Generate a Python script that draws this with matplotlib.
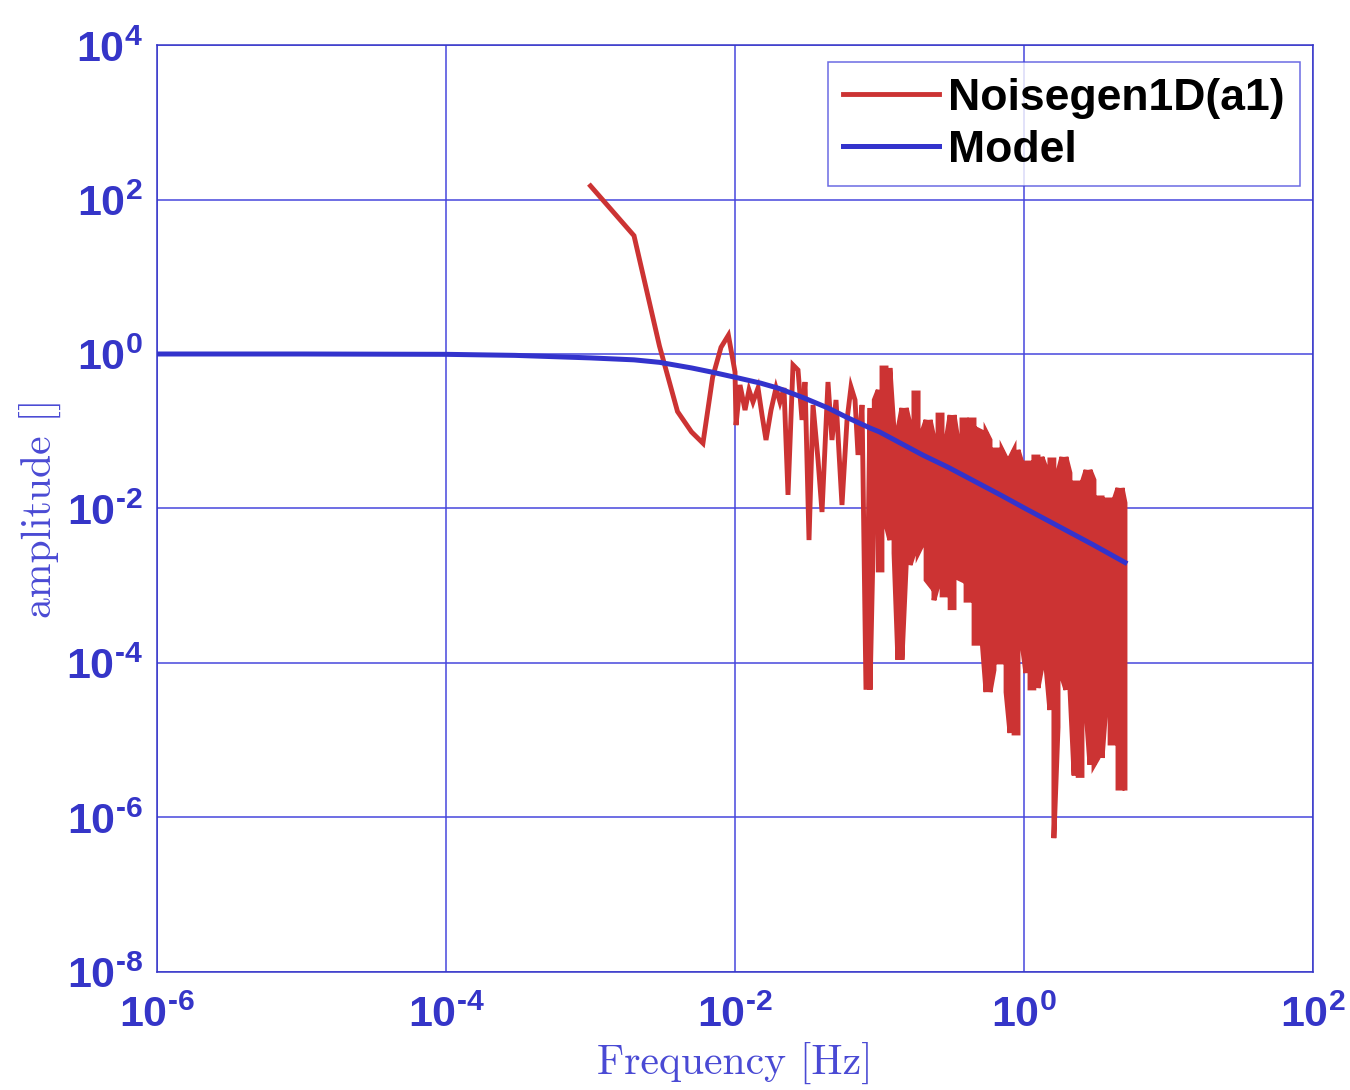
import matplotlib
matplotlib.use("Agg")
import matplotlib.pyplot as plt

# ---- data --------------------------------------------------------------
# smooth low-frequency part of the noise spectrum
smooth_f = [1.0e-3, 2.0e-3, 3.0e-3, 4.0e-3, 5.0e-3, 6.0e-3, 7.0e-3, 8.0e-3, 9.0e-3, 1.0e-2]
smooth_amp = [150, 34, 1.27, 0.18, 0.098, 0.070, 0.50, 1.22, 1.75, 0.585]

# resolved oscillations between 1e-2 and ~0.08 Hz
osc_f = [0.01016, 0.01083, 0.01173, 0.0125, 0.01332, 0.01443, 0.01538, 0.01639,
         0.01775, 0.01922, 0.02048, 0.02183, 0.02327, 0.0252, 0.02729, 0.02909,
         0.03051, 0.03252, 0.03466, 0.03754, 0.0400, 0.0440, 0.0469, 0.0500,
         0.0550, 0.0596, 0.0635, 0.0677, 0.0710, 0.0757, 0.0806]
osc_amp = [0.120, 0.397, 0.188, 0.342, 0.239, 0.363, 0.162, 0.077,
           0.188, 0.363, 0.239, 0.363, 0.0150, 0.721, 0.62, 0.140,
           0.434, 0.0039, 0.219, 0.0425, 0.0090, 0.434, 0.077, 0.254,
           0.0111, 0.140, 0.374, 0.254, 0.0493, 0.219, 4.5e-5]

# dense part: local max / min of the spectrum per narrow frequency band
dense_f = [0.086, 0.092, 0.098, 0.104, 0.111, 0.118, 0.126, 0.134, 0.143, 0.153,
           0.163, 0.173, 0.185, 0.197, 0.210, 0.224, 0.238, 0.254, 0.271, 0.289,
           0.308, 0.328, 0.349, 0.372, 0.397, 0.423, 0.451, 0.480, 0.512, 0.546,
           0.582, 0.620, 0.661, 0.705, 0.751, 0.800, 0.853, 0.909, 0.969, 1.03,
           1.10, 1.17, 1.25, 1.33, 1.42, 1.51, 1.61, 1.72, 1.83, 1.95,
           2.08, 2.22, 2.37, 2.52, 2.69, 2.86, 3.05, 3.25, 3.47, 3.69,
           3.94, 4.20, 4.47, 4.77, 5.00]
dense_top = [0.200, 0.254, 0.342, 0.659, 0.659, 0.659, 0.104, 0.104, 0.200, 0.200,
             0.120, 0.313, 0.313, 0.0978, 0.140, 0.140, 0.0818, 0.162, 0.162, 0.077,
             0.162, 0.162, 0.077, 0.140, 0.140, 0.140, 0.140, 0.104, 0.0978, 0.0978,
             0.077, 0.0572, 0.0572, 0.0572, 0.0451, 0.0451, 0.0572, 0.0572, 0.0388, 0.0388,
             0.0388, 0.0464, 0.0464, 0.0464, 0.0334, 0.0425, 0.0425, 0.0297, 0.0464, 0.0464,
             0.0288, 0.0214, 0.0214, 0.0214, 0.0315, 0.0315, 0.0234, 0.0137, 0.0137, 0.0129,
             0.0129, 0.0129, 0.0184, 0.0184, 0.0118]
dense_bot = [4.5e-5, 0.0164, 0.0016, 0.0016, 0.0061, 0.0039, 0.00265, 1.1e-4, 1.1e-4, 0.00186,
             0.00186, 0.00265, 0.00265, 0.00337, 0.00119, 0.00102, 0.00065, 0.00102, 0.00076, 0.00076,
             0.00052, 0.00052, 0.00126, 0.00119, 0.00065, 0.00065, 0.00018, 0.00018, 0.0002, 4.2e-5,
             4.2e-5, 8.1e-5, 1.03e-4, 1.03e-4, 4.2e-5, 1.24e-5, 1.24e-5, 1.24e-5, 0.00018, 7.4e-5,
             4.75e-5, 4.75e-5, 4.75e-5, 8.9e-5, 8.9e-5, 2.46e-5, 5.4e-7, 1.48e-5, 6.6e-5, 4.5e-5,
             4.5e-5, 3.5e-6, 3.5e-6, 3.5e-6, 2.3e-5, 4.8e-6, 4.8e-6, 5.9e-6, 5.9e-6, 2.7e-5,
             9.2e-6, 9.2e-6, 2.4e-6, 2.4e-6, 2.4e-6]

model_f = [1e-6, 1e-5, 1e-4, 3e-4, 1e-3, 2e-3, 3e-3, 5e-3, 7e-3, 1e-2, 1.5e-2, 2e-2,
           3e-2, 4.4e-2, 6e-2, 8.6e-2, 0.1, 0.2, 0.3, 0.5, 0.7, 1.0, 1.5, 2.0, 3.0, 5.0]
model_amp = [1.0, 1.0, 0.99, 0.96, 0.89, 0.84, 0.78, 0.66, 0.58, 0.50, 0.42, 0.36,
             0.27, 0.20, 0.15, 0.11, 0.098, 0.049, 0.034, 0.0205, 0.0147, 0.0102, 0.0068,
             0.0051, 0.0034, 0.0020]

x_tick_exp = [-6, -4, -2, 0, 2]
y_tick_exp = [-8, -6, -4, -2, 0, 2, 4]

# ---- build the noise path (columns drawn up/down alternately) ----------
path_f, path_amp = [], []
for i, (f, hi, lo) in enumerate(zip(dense_f, dense_top, dense_bot)):
    path_f += [f, f]
    path_amp += [hi, lo] if i % 2 == 0 else [lo, hi]

noise_f = smooth_f + osc_f + path_f
noise_amp = smooth_amp + osc_amp + path_amp


def decade_label(e):
    # MATLAB style: short hyphen in the exponent
    exp = str(e).replace("-", r"\text{-}")
    return r"$\mathbf{10^{%s}}$" % exp


# ---- style ------------------------------------------------------------
AX_BLUE = "#3535c8"
GRID_BLUE = "#4646dc"
RED = "#cc3333"
MODEL_BLUE = "#3333cc"
LABEL_BLUE = "#4a4ad4"

plt.rcParams["mathtext.fontset"] = "custom"
plt.rcParams["mathtext.bf"] = "Liberation Sans:bold"
plt.rcParams["mathtext.rm"] = "Liberation Sans:bold"

fig = plt.figure(figsize=(13.5, 10.9), dpi=100)
ax = fig.add_axes([0.1163, 0.1083, 0.8563, 0.8504])

ax.plot(noise_f, noise_amp, color=RED, lw=3.5, label="Noisegen1D(a1)",
        solid_joinstyle="miter")
ax.plot(model_f, model_amp, color=MODEL_BLUE, lw=3.6, label="Model")

ax.set_xscale("log")
ax.set_yscale("log")
ax.set_xlim(1e-6, 1e2)
ax.set_ylim(1e-8, 1e4)

ax.set_xticks([10.0 ** e for e in x_tick_exp])
ax.set_xticklabels([decade_label(e) for e in x_tick_exp])
ax.set_yticks([10.0 ** e for e in y_tick_exp])
ax.set_yticklabels([decade_label(e) for e in y_tick_exp])
ax.minorticks_off()
ax.tick_params(axis="both", colors=AX_BLUE, labelsize=31, direction="in",
               length=0, width=1)
ax.tick_params(axis="x", pad=16)
ax.tick_params(axis="y", pad=10)

ax.grid(True, color=GRID_BLUE, lw=1.1)
ax.set_axisbelow(True)
for sp in ax.spines.values():
    sp.set_color(AX_BLUE)
    sp.set_linewidth(1.1)

ax.set_xlabel("Frequency [Hz]", fontname="cmr10", fontsize=30, color=LABEL_BLUE,
              labelpad=4)
ax.set_ylabel("amplitude []", fontname="cmr10", fontsize=30, color=LABEL_BLUE,
              labelpad=4)

leg = ax.legend(loc="upper right", bbox_to_anchor=(0.9887, 0.9817),
                borderaxespad=0, fancybox=False, frameon=True,
                prop={"family": "Liberation Sans", "weight": "bold", "size": 32},
                handlelength=2.15, handletextpad=0.2, labelspacing=0.25,
                borderpad=0.35)
leg.get_frame().set_edgecolor(GRID_BLUE)
leg.get_frame().set_linewidth(1.1)

fig.savefig("out.png", dpi=100)
